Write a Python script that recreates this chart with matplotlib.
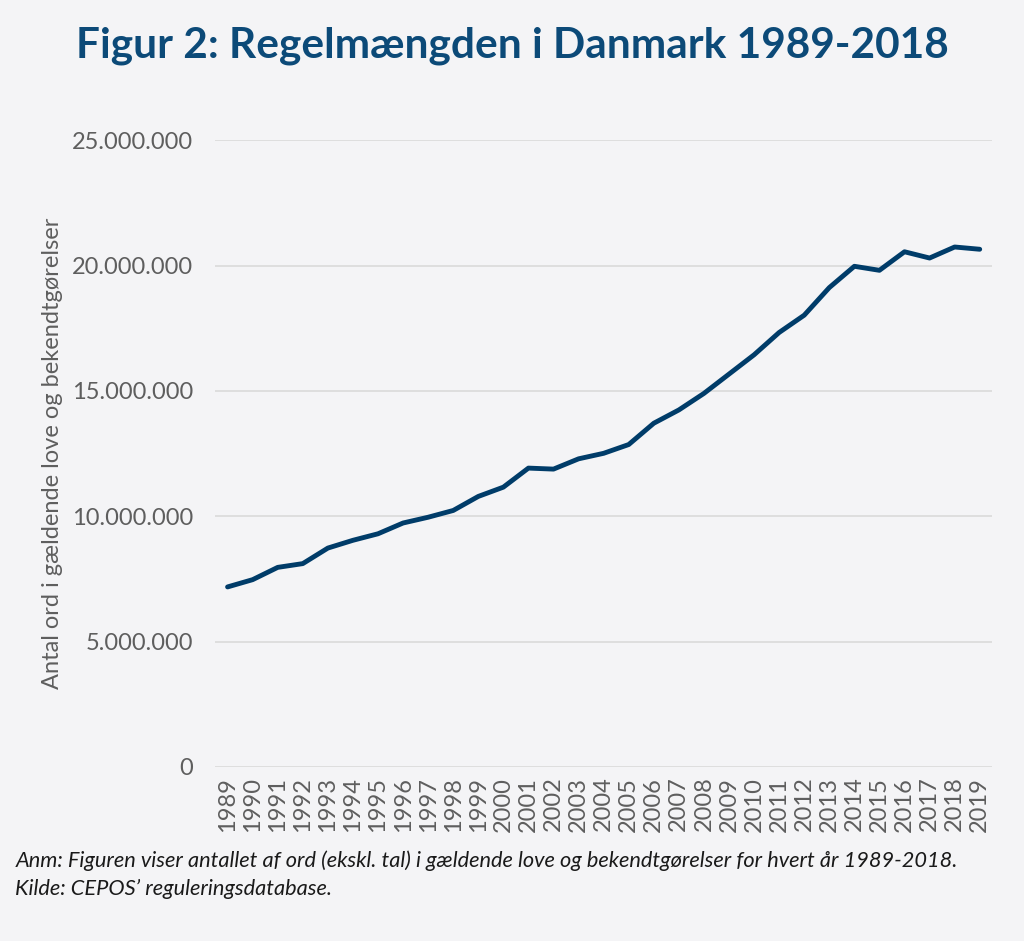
import numpy as np
import matplotlib
matplotlib.use("Agg")
import matplotlib.pyplot as plt
from matplotlib.ticker import FuncFormatter

plt.rcParams['font.family'] = ['Lato', 'DejaVu Sans']

aar = list(range(1989, 2020))
ord_antal = [7.18, 7.47, 7.96, 8.11, 8.73, 9.04, 9.30, 9.73, 9.96, 10.23,
             10.79, 11.16, 11.92, 11.88, 12.29, 12.51, 12.86, 13.71, 14.24, 14.90,
             15.67, 16.44, 17.33, 18.02, 19.12, 19.97, 19.81, 20.55, 20.30, 20.74,
             20.65]
ord_antal = np.array(ord_antal) * 1e6

bg = '#f4f4f6'
fig = plt.figure(figsize=(10.24, 9.41), dpi=100, facecolor=bg)
ax = fig.add_axes([0.21, 0.185, 0.759, 0.666], facecolor=bg)

ax.plot(aar, ord_antal, color='#003c69', lw=3.5, solid_capstyle='round', zorder=3)

ax.set_xlim(1988.5, 2019.5)
ax.set_ylim(0, 25e6)
ax.set_yticks(np.arange(0, 25e6 + 1, 5e6))
ax.yaxis.set_major_formatter(FuncFormatter(lambda v, p: f"{int(v):,}".replace(',', '.')))
ax.set_xticks(aar)
ax.set_xticklabels([str(a) for a in aar], rotation=90)
ax.grid(axis='y', color='#dcdcdc', lw=1.3)
ax.set_axisbelow(True)
for s in ax.spines.values():
    s.set_visible(False)
ax.tick_params(length=0, labelsize=17, colors='#5e5e5e')
ax.tick_params(axis='y', pad=16)
ax.tick_params(axis='x', pad=7)

ax.set_ylabel('Antal ord i gældende love og bekendtgørelser', fontsize=17, color='#5e5e5e')
ax.yaxis.set_label_coords(-0.195, 0.5)

fig.text(0.5, 0.951, 'Figur 2: Regelmængden i Danmark 1989-2018', ha='center', va='center',
         fontsize=30.5, fontweight='bold', color='#0c4a78')
fig.text(0.015, 0.085, 'Anm: Figuren viser antallet af ord (ekskl. tal) i gældende love og bekendtgørelser for hvert år 1989-2018.',
         fontsize=15.65, style='italic', color='#1a1a1a', va='center')
fig.text(0.015, 0.055, 'Kilde: CEPOS\u2019 reguleringsdatabase.',
         fontsize=15.65, style='italic', color='#1a1a1a', va='center')

fig.savefig('out.png', dpi=100, facecolor=bg)
